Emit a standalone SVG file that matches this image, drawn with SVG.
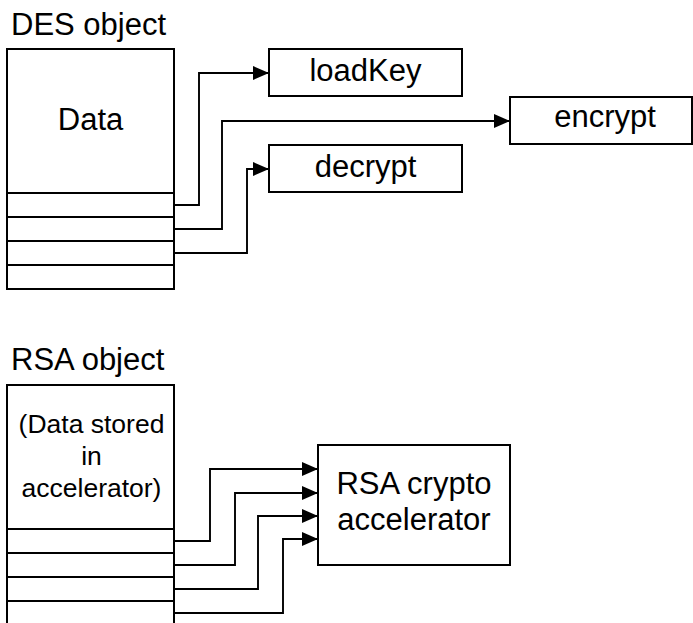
<svg xmlns="http://www.w3.org/2000/svg" width="693" height="623" viewBox="0 0 693 623">
<style>
.box{fill:#fff;stroke:#000;stroke-width:2}
.row{stroke:#000;stroke-width:2;fill:none}
.conn{fill:none;stroke:#000;stroke-width:1.9}
text{font-family:"Liberation Sans",Arial,sans-serif;fill:#000}
.t30{font-size:31px}
.t25{font-size:26.5px}
.mid{text-anchor:middle}
</style>
<defs>
<marker id="arr" markerUnits="userSpaceOnUse" markerWidth="16" markerHeight="14" refX="16" refY="7" orient="auto">
<path d="M0,0 L16,7 L0,14 z" fill="#000"/>
</marker>
</defs>
<rect width="693" height="623" fill="#fff"/>
<g id="des-object">
<text class="t30" x="11" y="35">DES object</text>
<rect class="box" x="7" y="49" width="167" height="240"/>
<path class="row" d="M7,193 H174 M7,217 H174 M7,241 H174 M7,265 H174"/>
<text class="t30 mid" x="90.5" y="130">Data</text>
</g>
<g id="loadKey">
<rect class="box" x="269" y="49" width="193" height="47"/>
<text class="t30 mid" x="365.5" y="81">loadKey</text>
</g>
<g id="encrypt">
<rect class="box" x="510" y="97" width="182" height="47"/>
<text class="t30 mid" x="605" y="127">encrypt</text>
</g>
<g id="decrypt">
<rect class="box" x="269" y="145" width="193" height="47"/>
<text class="t30 mid" x="365.5" y="177">decrypt</text>
</g>
<g id="rsa-object">
<text class="t30" x="11" y="370">RSA object</text>
<rect class="box" x="7" y="385" width="167" height="240"/>
<path class="row" d="M7,529 H174 M7,553 H174 M7,577 H174 M7,601 H174"/>
<text class="t25 mid" x="91.5" y="433">(Data stored</text>
<text class="t25 mid" x="91.5" y="465">in</text>
<text class="t25 mid" x="91.5" y="497">accelerator)</text>
</g>
<g id="rsa-accelerator">
<rect class="box" x="318" y="445" width="192" height="120"/>
<text class="t30 mid" x="414" y="494">RSA crypto</text>
<text class="t30 mid" x="414" y="530">accelerator</text>
</g>
<g id="connectors">
<path class="conn" marker-end="url(#arr)" d="M174,205 H199 V73 H269"/>
<path class="conn" marker-end="url(#arr)" d="M174,229 H222 V121 H510"/>
<path class="conn" marker-end="url(#arr)" d="M174,253 H247 V169 H269"/>
<path class="conn" marker-end="url(#arr)" d="M174,541 H210 V469 H318"/>
<path class="conn" marker-end="url(#arr)" d="M174,565 H235 V493 H318"/>
<path class="conn" marker-end="url(#arr)" d="M174,589 H258 V516 H318"/>
<path class="conn" marker-end="url(#arr)" d="M174,613 H283 V539 H318"/>
</g>
</svg>
